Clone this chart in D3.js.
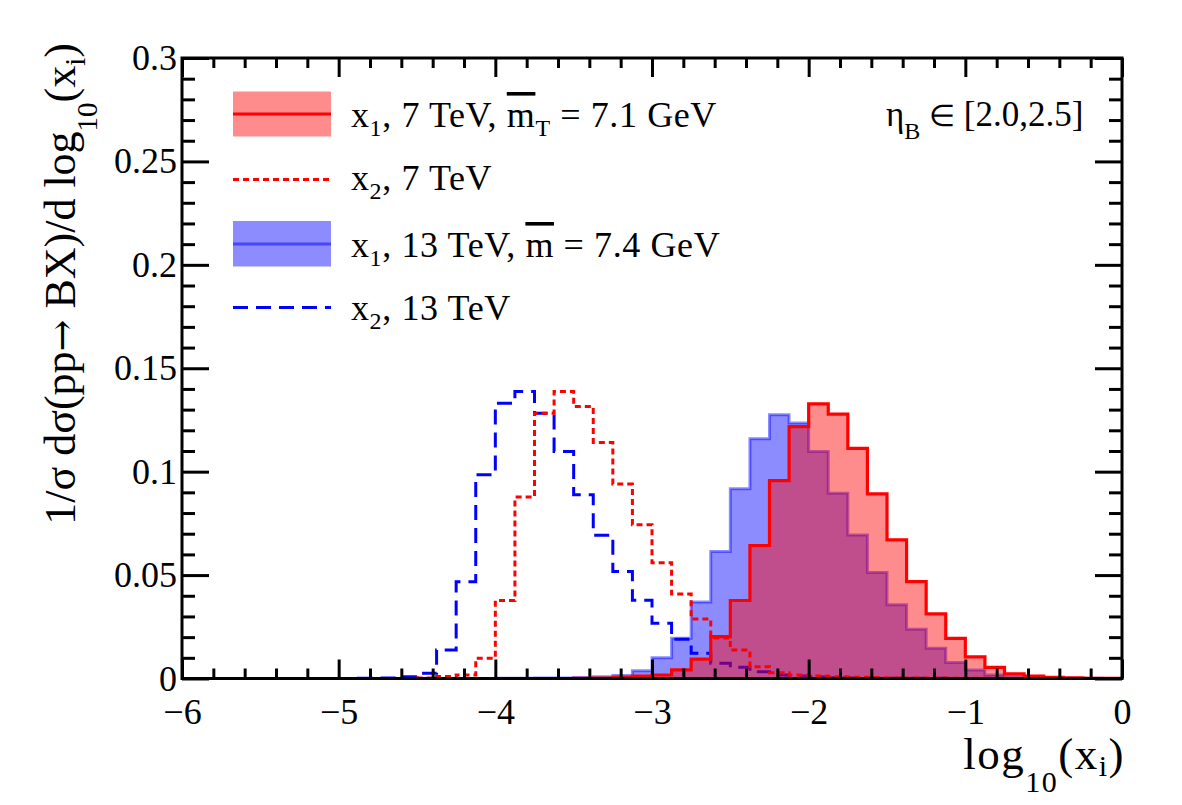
<!DOCTYPE html>
<html><head><meta charset="utf-8">
<script src="https://cdn.jsdelivr.net/npm/d3@7"></script>
<style>
body{margin:0;background:#fff}
svg{display:block}
text{font-family:"Liberation Serif","Times New Roman",serif;fill:#000}
</style>
</head><body>
<svg id="c" width="1182" height="805"></svg>
<script>
// ---------------- data ----------------
const binLow = [-6,-5.875,-5.75,-5.625,-5.5,-5.375,-5.25,-5.125,
  -5,-4.875,-4.75,-4.625,-4.5,-4.375,-4.25,-4.125,
  -4,-3.875,-3.75,-3.625,-3.5,-3.375,-3.25,-3.125,
  -3,-2.875,-2.75,-2.625,-2.5,-2.375,-2.25,-2.125,
  -2,-1.875,-1.75,-1.625,-1.5,-1.375,-1.25,-1.125,
  -1,-0.875,-0.75,-0.625,-0.5,-0.375,-0.25,-0.125];
const binWidth = 0.125;

// x1, 7 TeV (red filled)
const x1_7TeV = [0,0,0,0,0,0,0,0,0,0,0,0,0,0,0,0,0,0,0,0,
  0.0001,0.0002,0.0005,0.0012,0.0017,0.0042,0.0094,0.0202,0.0377,0.0643,
  0.0957,0.1218,0.1328,0.1278,0.1113,0.0893,0.0670,0.0468,0.0312,0.0194,
  0.0105,0.0054,0.0022,0.0012,0.0006,0.0003,0.0001,0.0001];
// x2, 7 TeV (red dotted)
const x2_7TeV = [0,0,0,0,0,0,0,0,0,0,0,0,
  0.0002,0.0010,0.0017,0.0098,0.0377,0.0877,0.1283,0.1388,0.1315,0.1141,
  0.0940,0.0743,0.0560,0.0408,0.0288,0.0196,0.0138,0.0057,0.0028,0.0017,
  0.0012,0.0009,0.0006,0.0004,0.0003,0.0002,0.0002,0.0001,0.0001,0.0001,
  0,0,0,0,0,0];
// x1, 13 TeV (blue filled)
const x1_13TeV = [0,0,0,0,0,0,0,0,0,0,0,0,0,0,0,0,
  0.0001,0.0001,0.0002,0.0003,0.0005,0.0009,0.0015,0.0037,0.0100,0.0194,
  0.0370,0.0614,0.0918,0.1159,0.1275,0.1235,0.1097,0.0896,0.0694,0.0512,
  0.0356,0.0238,0.0146,0.0077,0.0041,0.0017,0.0009,0.0004,0.0002,0.0001,
  0.0001,0];
// x2, 13 TeV (blue dashed)
const x2_13TeV = [0,0,0,0,0,0,0,0,0,
  0.0001,0.0003,0.0009,0.0025,0.0138,0.0468,0.0985,0.1331,0.1388,0.1283,0.1097,
  0.0888,0.0692,0.0517,0.0378,0.0267,0.0190,0.0122,0.0074,0.0054,0.0033,
  0.0017,0.0012,0.0007,0.0004,0.0003,0.0002,0.0001,0.0001,0.0001,
  0,0,0,0,0,0,0,0,0];

const xTicks = [-6,-5,-4,-3,-2,-1,0];
const xTickLabels = ["\u22126","\u22125","\u22124","\u22123","\u22122","\u22121","0"];
const yTicks = [0,0.05,0.1,0.15,0.2,0.25,0.3];
const yTickLabels = ["0","0.05","0.1","0.15","0.2","0.25","0.3"];

// ---------------- layout ----------------
const L = 182, R = 1122, T = 58, B = 678.5;
const x = d3.scaleLinear().domain([-6,0]).range([L,R]);
const y = d3.scaleLinear().domain([0,0.3]).range([B,T]);
const svg = d3.select('#c');

svg.append('defs').append('clipPath').attr('id','clip')
  .append('rect').attr('x',L).attr('y',T).attr('width',R-L).attr('height',B-T);

function stepPoints(vals){
  const first = vals.findIndex(v=>v>0);
  let last = vals.length-1; while(last>0 && !(vals[last]>0)) last--;
  const pts = [[binLow[first],0]];
  for(let i=first;i<=last;i++){ pts.push([binLow[i],vals[i]]); pts.push([binLow[i]+binWidth,vals[i]]); }
  pts.push([binLow[last]+binWidth,0]);
  return pts;
}
const line = d3.line().x(d=>x(d[0])).y(d=>y(d[1]));
const plot = svg.append('g').attr('clip-path','url(#clip)');

// blue filled
plot.append('path').attr('d', line(stepPoints(x1_13TeV))+'Z')
  .attr('fill','rgba(0,0,255,0.45)').attr('stroke','none');
plot.append('path').attr('d', line(stepPoints(x1_13TeV)))
  .attr('fill','none').attr('stroke','rgba(0,0,255,0.45)').attr('stroke-width',3);
// blue dashed
plot.append('path').attr('d', line(stepPoints(x2_13TeV)))
  .attr('fill','none').attr('stroke','#0000ff').attr('stroke-width',3).attr('stroke-dasharray','15,8');
// red filled
plot.append('path').attr('d', line(stepPoints(x1_7TeV))+'Z')
  .attr('fill','rgba(255,0,0,0.45)').attr('stroke','none');
plot.append('path').attr('d', line(stepPoints(x1_7TeV)))
  .attr('fill','none').attr('stroke','#ff0000').attr('stroke-width',3.2);
// red dotted
plot.append('path').attr('d', line(stepPoints(x2_7TeV)))
  .attr('fill','none').attr('stroke','#ff0000').attr('stroke-width',3).attr('stroke-dasharray','6,4');

// ---------------- axes ----------------
function styleAxis(g){
  g.select('.domain').remove();
  g.selectAll('.tick line').attr('stroke','#000').attr('stroke-width',3);
  g.selectAll('text').attr('font-family','"Liberation Serif","Times New Roman",serif').attr('font-size',36).attr('fill','#000');
}
const xMinor = d3.range(-6,0.0001,0.2).filter(v=>Math.abs(v-Math.round(v))>1e-6);
const yMinor = d3.range(0,0.3001,0.01).filter(v=>Math.abs(v/0.05-Math.round(v/0.05))>1e-6);

svg.append('g').attr('transform',`translate(0,${B})`)
  .call(d3.axisBottom(x).tickValues(xTicks).tickSizeInner(-19).tickSizeOuter(0).tickPadding(20)
    .tickFormat((d,i)=>xTickLabels[i])).call(styleAxis);
svg.append('g').attr('transform',`translate(0,${B})`)
  .call(d3.axisBottom(x).tickValues(xMinor).tickSizeInner(-10).tickSizeOuter(0).tickFormat('')).call(styleAxis);
svg.append('g').attr('transform',`translate(0,${T})`)
  .call(d3.axisTop(x).tickValues(xTicks).tickSizeInner(-19).tickSizeOuter(0).tickFormat('')).call(styleAxis);
svg.append('g').attr('transform',`translate(0,${T})`)
  .call(d3.axisTop(x).tickValues(xMinor).tickSizeInner(-10).tickSizeOuter(0).tickFormat('')).call(styleAxis);

svg.append('g').attr('transform',`translate(${L},0)`)
  .call(d3.axisLeft(y).tickValues(yTicks).tickSizeInner(-27).tickSizeOuter(0).tickPadding(5)
    .tickFormat((d,i)=>yTickLabels[i])).call(styleAxis);
svg.append('g').attr('transform',`translate(${L},0)`)
  .call(d3.axisLeft(y).tickValues(yMinor).tickSizeInner(-13).tickSizeOuter(0).tickFormat('')).call(styleAxis);
svg.append('g').attr('transform',`translate(${R},0)`)
  .call(d3.axisRight(y).tickValues(yTicks).tickSizeInner(-27).tickSizeOuter(0).tickFormat('')).call(styleAxis);
svg.append('g').attr('transform',`translate(${R},0)`)
  .call(d3.axisRight(y).tickValues(yMinor).tickSizeInner(-13).tickSizeOuter(0).tickFormat('')).call(styleAxis);

svg.append('rect').attr('x',L).attr('y',T).attr('width',R-L).attr('height',B-T)
  .attr('fill','none').attr('stroke','#000').attr('stroke-width',3);

// ---------------- rich text helper ----------------
function rich(t, parts){
  let shift = 0;
  parts.forEach(p=>{
    const ts = t.append('tspan').text(p.t);
    const target = p.dy || 0;
    if(target !== shift){ ts.attr('dy', target - shift); shift = target; }
    if(p.size) ts.attr('font-size', p.size);
    if(p.ff) ts.attr('font-family', p.ff);
    if(p.ovl) ts.style('text-decoration','overline');
  });
  return t;
}

// axis titles
rich(svg.append('text').attr('x',1125).attr('y',769).attr('text-anchor','end').attr('font-size',45)
  .attr('letter-spacing',1.5),
  [{t:'log'},{t:'10',dy:23,size:30},{t:'(x'},{t:'i',dy:7,size:30},{t:')'}]);

rich(svg.append('text').attr('transform','translate(75,0) rotate(-90)').attr('x',-43).attr('y',0)
  .attr('text-anchor','end').attr('font-size',44),
  [{t:'1/\u03c3 d\u03c3(pp'},{t:'\u2192',ff:'"DejaVu Serif"',size:38},{t:' BX)/d log'},{t:'10',dy:22,size:29},{t:'(x'},{t:'i',dy:10,size:29},{t:')'}]);

// eta label
rich(svg.append('text').attr('x',886).attr('y',126).attr('font-size',35),
  [{t:'\u03b7'},{t:'B',dy:13,size:24},{t:' '},{t:'\u2208',size:30},{t:' [2.0,2.5]'}]);

// ---------------- legend ----------------
const leg = svg.append('g');
const sx0 = 233, sx1 = 331, tx = 351;
// row 1 red box
leg.append('rect').attr('x',sx0).attr('y',91.5).attr('width',sx1-sx0).attr('height',45).attr('fill','rgba(255,0,0,0.45)');
leg.append('line').attr('x1',sx0).attr('x2',sx1).attr('y1',114).attr('y2',114).attr('stroke','#ff0000').attr('stroke-width',3);
rich(leg.append('text').attr('x',tx).attr('y',127).attr('font-size',36).attr('letter-spacing',0.6),
  [{t:'x'},{t:'1',dy:9,size:24},{t:', 7 TeV, '},{t:'m',ovl:true},{t:'T',dy:9,size:24},{t:' = 7.1 GeV'}]);
// row 2 red dotted
leg.append('line').attr('x1',sx0).attr('x2',sx1).attr('y1',179.5).attr('y2',179.5).attr('stroke','#ff0000').attr('stroke-width',3).attr('stroke-dasharray','6,4');
rich(leg.append('text').attr('x',tx).attr('y',190).attr('font-size',36).attr('letter-spacing',0.6),
  [{t:'x'},{t:'2',dy:9,size:24},{t:', 7 TeV'}]);
// row 3 blue box
leg.append('rect').attr('x',sx0).attr('y',221).attr('width',sx1-sx0).attr('height',45.5).attr('fill','rgba(0,0,255,0.45)');
leg.append('line').attr('x1',sx0).attr('x2',sx1).attr('y1',244).attr('y2',244).attr('stroke','rgba(0,0,255,0.5)').attr('stroke-width',3);
rich(leg.append('text').attr('x',tx).attr('y',257).attr('font-size',36).attr('letter-spacing',0.6),
  [{t:'x'},{t:'1',dy:9,size:24},{t:', 13 TeV, '},{t:'m',ovl:true},{t:' = 7.4 GeV'}]);
// row 4 blue dashed
leg.append('line').attr('x1',sx0).attr('x2',sx1).attr('y1',307.5).attr('y2',307.5).attr('stroke','#0000ff').attr('stroke-width',3).attr('stroke-dasharray','15,8');
rich(leg.append('text').attr('x',tx).attr('y',320).attr('font-size',36).attr('letter-spacing',0.6),
  [{t:'x'},{t:'2',dy:9,size:24},{t:', 13 TeV'}]);
</script>
</body></html>
